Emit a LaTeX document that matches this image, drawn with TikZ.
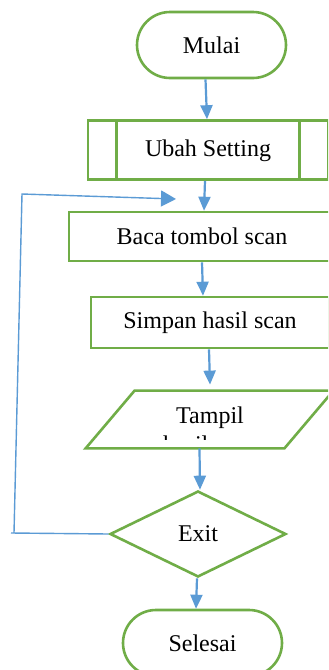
\documentclass[tikz,border=0pt]{standalone}
\usepackage{fontspec}
\setmainfont{Liberation Serif}
\usetikzlibrary{shapes.geometric,arrows.meta}
\definecolor{boxgreen}{RGB}{112,173,71}
\definecolor{lineblue}{RGB}{91,155,213}
\tikzset{box/.style={draw=boxgreen, line width=1.3pt, fill=white, inner sep=0pt, font=\fontsize{12}{14.5}\selectfont},
terminal/.style={box, rectangle, rounded corners=16.5pt, minimum width=#1, minimum height=33pt},
flow/.style={draw=lineblue, line width=1.1pt, -{Triangle[width=6pt,length=7pt]}},
back/.style={draw=lineblue, line width=0.7pt}}

\begin{document}
\begin{tikzpicture}[x=0.5pt, y=-0.5pt]
        \clip (0,0) rectangle (328,670);
        \fill[white] (0,0) rectangle (328,670);

        \node[terminal=74.5pt] (mulai) at (211.5, 45) {Mulai};
        \node[box, minimum width=120pt, minimum height=29.5pt, text depth=1.5pt] (ubah) at (208, 150) {Ubah Setting};
        \draw[boxgreen, line width=1.3pt] ([xshift=15pt]ubah.north west) -- ([xshift=15pt]ubah.south west)
              ([xshift=-15pt]ubah.north east) -- ([xshift=-15pt]ubah.south east);
        \node[box, minimum width=133pt, minimum height=24.5pt] (baca) at (202, 236.5) {Baca tombol scan};
        \node[box, minimum width=119pt, minimum height=25.5pt] (simpan) at (210, 322.5) {Simpan hasil scan};
        \node[minimum width=123.5pt, minimum height=28.5pt, inner sep=0pt] (tampil) at (209.5, 419.5) {};
        \draw[box] (tampil.south west) -- ([xshift=-24.5pt]tampil.south east) -- (tampil.north east)
              -- ([xshift=24.5pt]tampil.north west) -- cycle;
        \begin{scope}
              \clip (0,395) rectangle (328,439.5);
              \node[font=\fontsize{12}{14.5}\selectfont, align=center, anchor=base] (tampiltext) at (210, 452) {Tampil\\hasil scan};
        \end{scope}
        \node[box, diamond, aspect=2, minimum width=88pt, minimum height=43pt] (exit) at (198, 534) {Exit};
        \node[terminal=79.5pt] (selesai) at (202.5, 643) {Selesai};

        % loop back from Exit
        \coordinate (loopa) at (11, 533);
        \coordinate (loopb) at (14, 533);
        \coordinate (loopc) at (22, 194);
        \coordinate (loopd) at (176, 199);
        \draw[back] (exit.west) -- (loopa);
        \draw[back, -{Triangle[width=8pt,length=7.5pt]}] (loopb) -- (loopc) -- (loopd);

        \draw ([xshift=-3pt]mulai.south) edge[flow] ([xshift=-0.5pt]ubah.north)
              ([xshift=-1.5pt]ubah.south) edge[flow] ([xshift=1pt]baca.north)
              (baca.south) edge[flow] ([xshift=-3.5pt]simpan.north)
              ([xshift=-0.5pt]simpan.south) edge[flow] ([xshift=0.25pt,yshift=3pt]tampil.north)
              ([xshift=-5pt]tampil.south) edge[flow] ([xshift=1pt]exit.north)
              ([xshift=-0.5pt]exit.south) edge[flow] ([xshift=-3.25pt]selesai.north);
    \end{tikzpicture}
\end{document}
